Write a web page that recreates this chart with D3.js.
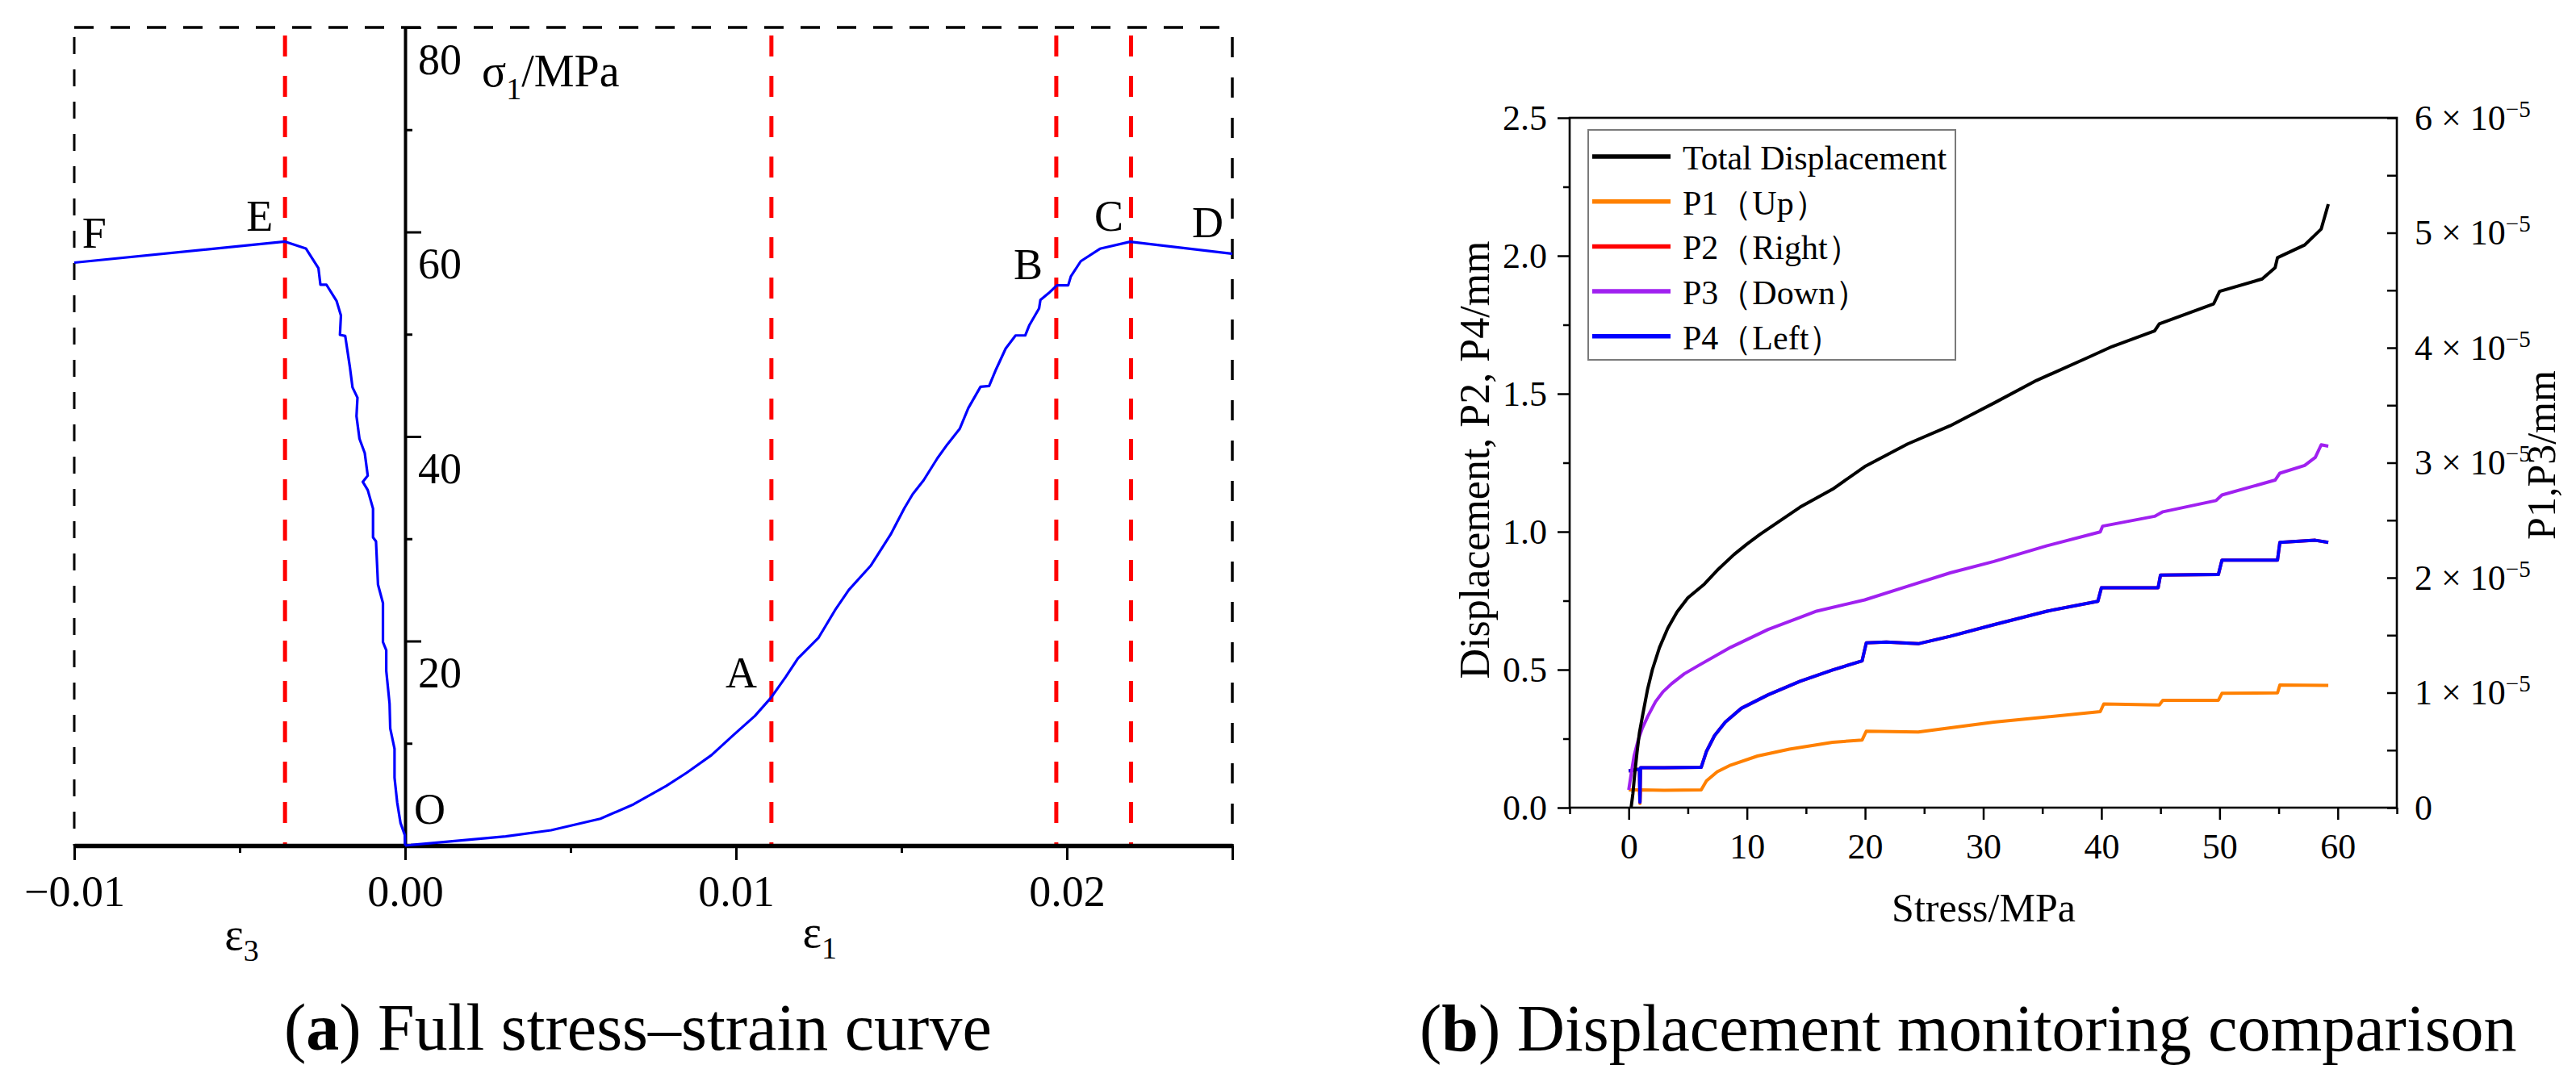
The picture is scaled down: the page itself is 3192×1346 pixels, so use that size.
<!DOCTYPE html>
<html>
<head>
<meta charset="utf-8">
<script src="https://cdn.jsdelivr.net/npm/d3@7"></script>
<style>
  html, body { margin: 0; padding: 0; background: #fff; }
  svg { display: block; }
  text { font-family: "Liberation Serif", "Times New Roman", serif; fill: #000; }
</style>
</head>
<body>
<div id="fig"></div>
<script>
// ---- (a) full stress-strain curve ----
// lateral strain branch, F -> E -> O
const strain3 = [-0.01, -0.00363, -0.0030, -0.00262, -0.00256, -0.00238, -0.00207, -0.00194, -0.00197, -0.00181,
  -0.00167, -0.00159, -0.00144, -0.00147, -0.00138, -0.00122, -0.00113, -0.00128, -0.00113, -0.00097,
  -0.00097, -0.00088, -0.00082, -0.00067, -0.00067, -0.00057, -0.00057, -0.00047, -0.00045, -0.00032,
  -0.00032, -0.00024, -0.00014, -0.00001, 0];
const stress3 = [57.0, 59.06, 58.39, 56.46, 54.85, 54.85, 53.24, 51.83, 49.94, 49.83,
  46.8, 44.8, 43.8, 41.99, 39.78, 38.38, 36.17, 35.57, 34.76, 32.95,
  30.14, 29.74, 25.52, 23.72, 19.9, 19.1, 17.09, 13.87, 11.46, 9.46,
  6.64, 4.23, 2.22, 1.02, 0];
// axial strain branch, O -> A -> B -> C -> D
const strain1 = [0, 0.00304, 0.00441, 0.0059, 0.0069, 0.00789, 0.00851, 0.00926, 0.00994, 0.01057,
  0.01106, 0.0115, 0.01187, 0.01249, 0.01299, 0.01341, 0.01408, 0.01467, 0.01509, 0.01534,
  0.01567, 0.01609, 0.01639, 0.01676, 0.01702, 0.01739, 0.01765, 0.01786, 0.01815, 0.01845,
  0.01874, 0.01887, 0.01916, 0.0192, 0.01945, 0.0197, 0.02004, 0.02012, 0.02042, 0.021,
  0.02191, 0.025];
const stress1 = [0, 0.9, 1.5, 2.62, 4.03, 5.83, 7.12, 8.85, 10.86, 12.67,
  14.47, 16.48, 18.29, 20.3, 23.0, 25.0, 27.4, 30.4, 33.0, 34.36,
  35.72, 37.89, 39.24, 40.74, 42.77, 44.86, 44.94, 46.57, 48.6, 49.88,
  49.88, 50.91, 52.53, 53.35, 54.02, 54.78, 54.78, 55.65, 57.14, 58.36,
  59.04, 57.87];
const stageStrains = [-0.00363, 0.01107, 0.01968, 0.02194];
const pointNames = ["F", "E", "O", "A", "B", "C", "D"];
const pointStrain = [-0.00976, -0.0048, 0.00027, 0.00968, 0.01839, 0.02083, 0.02378];
const pointStress = [58.5, 60.1, 2.1, 15.5, 55.4, 60.1, 59.5];
const strainTicks = [-0.01, -0.005, 0, 0.005, 0.01, 0.015, 0.02, 0.025];
const strainLabelTicks = [-0.01, 0, 0.01, 0.02];
const stressTicks = [0, 10, 20, 30, 40, 50, 60, 70, 80];
const stressLabelTicks = [20, 40, 60, 80];

// ---- (b) displacement monitoring ----
const stressTotal = [0.2, 0.35, 0.5, 0.7, 0.9, 1.2, 1.6, 2.0, 2.6, 3.3, 4.1, 5.0, 6.4, 7.6, 8.9, 10.0, 11.1,
  14.5, 17.25, 19.97, 23.6, 27.2, 30.9, 34.5, 38.8, 40.9, 44.5, 44.9, 49.5, 50.0, 53.6, 54.7, 54.9,
  57.2, 58.6, 59.2];
const dispTotal = [0, 0.05, 0.12, 0.2, 0.27, 0.34, 0.43, 0.5, 0.58, 0.65, 0.71, 0.76, 0.81, 0.865, 0.917, 0.955, 0.99,
  1.089, 1.154, 1.236, 1.318, 1.384, 1.466, 1.548, 1.63, 1.671, 1.728, 1.753, 1.826, 1.871, 1.916, 1.957, 1.993,
  2.039, 2.097, 2.187];
// P1 and P3 in units of 1e-5 mm (right axis)
const stressP1 = [0, 0.9, 0.95, 1.0, 3.0, 6.13, 6.58, 7.49, 8.62, 10.9, 13.6, 17.25, 19.75, 20.1, 24.5,
  30.9, 39.9, 40.2, 44.9, 45.2, 49.9, 50.2, 54.9, 55.1, 59.2];
const dispP1 = [0.154, 0.154, 0.036, 0.154, 0.151, 0.154, 0.233, 0.312, 0.37, 0.449, 0.509, 0.569, 0.588, 0.665, 0.658,
  0.744, 0.835, 0.902, 0.893, 0.934, 0.934, 0.994, 0.998, 1.066, 1.063];
const stressP3 = [0, 0.2, 0.45, 0.8, 1.13, 1.6, 2.27, 2.9, 3.63, 4.7, 5.9, 8.62, 11.8, 15.9, 19.97, 23.6, 27.2,
  30.9, 35.4, 39.9, 40.1, 44.5, 45.2, 49.7, 50.2, 54.7, 55.1, 57.2, 58.1, 58.6, 59.2];
const dispP3 = [0.154, 0.288, 0.449, 0.588, 0.686, 0.792, 0.922, 1.008, 1.078, 1.164, 1.236, 1.394, 1.55, 1.709,
  1.807, 1.925, 2.042, 2.141, 2.278, 2.398, 2.448, 2.534, 2.573, 2.671, 2.719, 2.849, 2.909, 2.976, 3.046,
  3.156, 3.144];
const stressP4 = [0, 0.9, 0.95, 1.0, 3.0, 6.13, 6.58, 7.26, 8.17, 9.53, 11.8, 14.5, 17.25, 19.75, 20.1,
  21.8, 24.5, 27.2, 30.9, 35.4, 39.7, 40.0, 44.8, 45.0, 49.9, 50.2, 54.9, 55.1, 58.1, 59.2];
const dispP4 = [0.133, 0.14, 0.02, 0.145, 0.145, 0.146, 0.204, 0.261, 0.31, 0.36, 0.409, 0.458, 0.499, 0.532, 0.597,
  0.6, 0.594, 0.621, 0.663, 0.712, 0.748, 0.797, 0.797, 0.843, 0.845, 0.897, 0.897, 0.961, 0.969, 0.961];
// P2 lies under P4 in the figure
const stressP2 = stressP4;
const dispP2 = dispP4;
const seriesNames = ["Total Displacement", "P1（Up）", "P2（Right）", "P3（Down）", "P4（Left）"];
const seriesColors = ["#000000", "#ff8000", "#ff0000", "#a020f0", "#0000ff"];
const stressTicksR = d3.range(-5, 66, 5);
const dispTicks = d3.range(0, 2.51, 0.25);
const smallTicks = d3.range(0, 6.01, 0.5);

const W = 3192, H = 1346;
const svg = d3.select("#fig").append("svg")
  .attr("width", W).attr("height", H)
  .attr("viewBox", `0 0 ${W} ${H}`);
svg.append("rect").attr("width", W).attr("height", H).attr("fill", "#fff");

// ======== panel (a) ========
const xL = d3.scaleLinear().domain([-0.01, 0.025]).range([92, 1527]);
const yL = d3.scaleLinear().domain([0, 80]).range([1048, 34]);
const pa = svg.append("g");

// dashed frame
pa.append("line").attr("x1", xL(-0.01)).attr("x2", xL(0.025)).attr("y1", yL(80)).attr("y2", yL(80))
  .attr("stroke", "#000").attr("stroke-width", 3.3).attr("stroke-dasharray", "24,21");
pa.append("line").attr("x1", xL(-0.01)).attr("x2", xL(-0.01)).attr("y1", yL(80) + 12).attr("y2", yL(0))
  .attr("stroke", "#000").attr("stroke-width", 3).attr("stroke-dasharray", "21,19");
pa.append("line").attr("x1", xL(0.025)).attr("x2", xL(0.025)).attr("y1", yL(80) + 12).attr("y2", yL(0))
  .attr("stroke", "#000").attr("stroke-width", 3.5).attr("stroke-dasharray", "25,25");

// red stage lines
pa.selectAll(".stage").data(stageStrains).join("line")
  .attr("x1", d => xL(d)).attr("x2", d => xL(d))
  .attr("y1", yL(80) + 10).attr("y2", yL(0))
  .attr("stroke", "#ff0000").attr("stroke-width", 5)
  .attr("stroke-dasharray", "26,24");

// x axis
const gxL = pa.append("g")
  .attr("transform", `translate(0,${yL(0)})`)
  .call(d3.axisBottom(xL).tickValues(strainTicks).tickSize(18).tickSizeOuter(0)
    .tickFormat(d => strainLabelTicks.some(v => Math.abs(v - d) < 1e-9) ? d3.format(".2f")(d) : ""));
gxL.select(".domain").attr("stroke-width", 5.5);
gxL.selectAll(".tick line").attr("stroke-width", 3)
  .attr("y2", d => (Math.abs(d * 100 - Math.round(d * 100)) < 1e-9 || d === 0.025) ? 18 : 9);
gxL.selectAll(".tick text").attr("y", 75).attr("dy", null)
  .attr("font-size", 54).attr("font-family", "Liberation Serif, serif");

// y axis at zero strain
const gyL = pa.append("g")
  .attr("transform", `translate(${xL(0)},0)`)
  .call(d3.axisRight(yL).tickValues(stressTicks).tickSize(20).tickSizeOuter(0)
    .tickFormat(d => stressLabelTicks.includes(d) ? d : ""));
gyL.select(".domain").attr("stroke-width", 4);
gyL.selectAll(".tick line").attr("stroke-width", 3).attr("x2", d => d % 20 === 0 ? 20 : 9);
gyL.selectAll(".tick text").attr("x", 16).attr("dy", null).attr("y", 57)
  .attr("text-anchor", "start")
  .attr("font-size", 54).attr("font-family", "Liberation Serif, serif");

// curves
const lineL = d3.line().x(d => xL(d[0])).y(d => yL(d[1]));
pa.append("path").datum(d3.zip(strain3, stress3))
  .attr("fill", "none").attr("stroke", "#0000ff").attr("stroke-width", 3.2)
  .attr("stroke-linejoin", "round").attr("d", lineL);
pa.append("path").datum(d3.zip(strain1, stress1))
  .attr("fill", "none").attr("stroke", "#0000ff").attr("stroke-width", 3.2)
  .attr("stroke-linejoin", "round").attr("d", lineL);

// point letters
pa.selectAll(".pt").data(d3.zip(pointNames, pointStrain, pointStress)).join("text")
  .attr("x", d => xL(d[1])).attr("y", d => yL(d[2]))
  .attr("font-size", 54).text(d => d[0]);

// axis names
const sig = pa.append("text").attr("x", 597).attr("y", 107).attr("font-size", 56);
sig.append("tspan").text("σ");
sig.append("tspan").attr("font-size", 38).attr("dy", 16).text("1");
sig.append("tspan").attr("dy", -16).text("/MPa");

[["3", -0.00546, 1177], ["1", 0.01201, 1174]].forEach(e => {
  const t = pa.append("text").attr("x", xL(e[1])).attr("y", e[2]).attr("font-size", 56);
  t.append("tspan").text("ε");
  t.append("tspan").attr("font-size", 38).attr("dy", 14).text(e[0]);
});

const capA = pa.append("text").attr("x", 352).attr("y", 1301).attr("font-size", 82);
capA.append("tspan").text("(");
capA.append("tspan").attr("font-weight", "bold").text("a");
capA.append("tspan").text(") Full stress–strain curve");

// ======== panel (b) ========
const xR = d3.scaleLinear().domain([-5, 65]).range([1945, 2970]);
const yR = d3.scaleLinear().domain([0, 2.5]).range([1001, 146]);
const yR2 = d3.scaleLinear().domain([0, 6]).range([1001, 146]); // x 1e-5 mm
const pb = svg.append("g");

const gxR = pb.append("g").attr("transform", `translate(0,${yR(0)})`)
  .call(d3.axisBottom(xR).tickValues(stressTicksR).tickSize(15).tickSizeOuter(0)
    .tickFormat(d => (d >= 0 && d <= 60 && d % 10 === 0) ? d : ""));
gxR.selectAll(".tick line").attr("stroke-width", 2.5).attr("y2", d => d % 10 === 0 ? 15 : 8);
gxR.selectAll(".tick text").attr("y", 63).attr("dy", null)
  .attr("font-size", 44).attr("font-family", "Liberation Serif, serif");

const gyR = pb.append("g").attr("transform", `translate(${xR(-5)},0)`)
  .call(d3.axisLeft(yR).tickValues(dispTicks).tickSize(15).tickPadding(13).tickSizeOuter(0)
    .tickFormat(d => Math.abs(d * 2 - Math.round(d * 2)) < 1e-9 ? d3.format(".1f")(d) : ""));
gyR.selectAll(".tick line").attr("stroke-width", 2.5)
  .attr("x2", d => Math.abs(d * 2 - Math.round(d * 2)) < 1e-9 ? -15 : -8);
gyR.selectAll(".tick text").attr("font-size", 44).attr("font-family", "Liberation Serif, serif");

const gyR2 = pb.append("g").attr("transform", `translate(${xR(65)},0)`)
  .call(d3.axisRight(yR2).tickValues(smallTicks).tickSize(-12).tickPadding(22).tickSizeOuter(0)
    .tickFormat(() => ""));
gyR2.selectAll(".tick line").attr("stroke-width", 2.5);
gyR2.selectAll(".tick text").attr("font-size", 44).attr("font-family", "Liberation Serif, serif")
  .attr("text-anchor", "start")
  .each(function (d) {
    if (Math.abs(d - Math.round(d)) > 1e-9) return;
    const t = d3.select(this);
    if (d === 0) { t.text("0"); return; }
    t.append("tspan").text(`${Math.round(d)} × 10`);
    t.append("tspan").attr("font-size", 29).attr("dy", "-0.55em").text("−5");
  });

pb.selectAll(".domain").attr("stroke", "none");
pb.append("rect").attr("x", xR(-5)).attr("y", yR(2.5))
  .attr("width", xR(65) - xR(-5)).attr("height", yR(0) - yR(2.5))
  .attr("fill", "none").attr("stroke", "#000").attr("stroke-width", 2.6);

// series
const seriesX = [stressTotal, stressP1, stressP2, stressP3, stressP4];
const seriesY = [dispTotal, dispP1, dispP2, dispP3, dispP4];
const seriesScale = [yR, yR2, yR, yR2, yR];
const drawOrder = [1, 2, 4, 3, 0];
drawOrder.forEach(i => {
  const ys = seriesScale[i];
  pb.append("path").datum(d3.zip(seriesX[i], seriesY[i]))
    .attr("fill", "none").attr("stroke", seriesColors[i]).attr("stroke-width", 4)
    .attr("stroke-linejoin", "round")
    .attr("d", d3.line().x(d => xR(d[0])).y(d => ys(d[1])));
});

// legend
const lg = pb.append("g");
lg.append("rect").attr("x", 1968).attr("y", 161).attr("width", 455).attr("height", 285)
  .attr("fill", "#fff").attr("stroke", "#7a7a7a").attr("stroke-width", 2);
seriesNames.forEach((name, i) => {
  const yy = 194 + i * 55.7;
  lg.append("line").attr("x1", 1973).attr("x2", 2070).attr("y1", yy).attr("y2", yy)
    .attr("stroke", seriesColors[i]).attr("stroke-width", 5.5);
  lg.append("text").attr("x", 2085).attr("y", yy + 16).attr("font-size", 42).text(name);
});

// axis titles
pb.append("text").attr("x", 2458).attr("y", 1142).attr("text-anchor", "middle")
  .attr("font-size", 50).text("Stress/MPa");
pb.append("text").attr("transform", "translate(1845,570) rotate(-90)")
  .attr("text-anchor", "middle").attr("font-size", 52).text("Displacement, P2, P4/mm");
pb.append("text").attr("transform", "translate(3166,564) rotate(-90)")
  .attr("text-anchor", "middle").attr("font-size", 50).text("P1,P3/mm");

const capB = pb.append("text").attr("x", 1759).attr("y", 1302).attr("font-size", 82);
capB.append("tspan").text("(");
capB.append("tspan").attr("font-weight", "bold").text("b");
capB.append("tspan").text(") Displacement monitoring comparison");
</script>
</body>
</html>
